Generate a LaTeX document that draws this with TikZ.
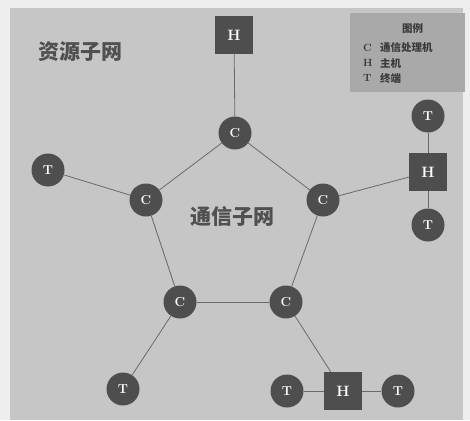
\documentclass[tikz,border=0pt]{standalone}
\usepackage{fontspec}
\newfontfamily\cjk{Noto Sans CJK SC}
\definecolor{bgout}{HTML}{EEEEEE}
\definecolor{bgin}{HTML}{C6C6C6}
\definecolor{legbg}{HTML}{A9A9A9}
\definecolor{nodefill}{HTML}{4E4E4E}
\definecolor{linkcol}{HTML}{6A6A6A}
\definecolor{txtcol}{HTML}{505050}
\definecolor{legcol}{HTML}{3C3C3C}
\begin{document}
\begin{tikzpicture}[x=1pt,y=-1pt,
  cnode/.style={circle,fill=nodefill,minimum size=33pt,inner sep=0pt,text=white,font=\fontsize{13}{13}\selectfont\bfseries},
  hnode/.style={rectangle,fill=nodefill,minimum size=38pt,inner sep=0pt,text=white,font=\fontsize{15}{15}\selectfont\bfseries},
  link/.style={draw=linkcol,line width=0.8pt},
  bigtxt/.style={text=txtcol,font=\cjk\bfseries\fontsize{21}{21}\selectfont},
  legtxt/.style={text=legcol,font=\cjk\bfseries\fontsize{10.5}{10.5}\selectfont,anchor=west,inner sep=0pt},
  legkey/.style={text=legcol,font=\bfseries\fontsize{10.5}{10.5}\selectfont,anchor=west,inner sep=0pt}]
\useasboundingbox (0,0) rectangle (470,420);
\fill[bgout] (0,0) rectangle (470,420);
\fill[bgin] (10,8) rectangle (463,420);
% legend
\fill[legbg] (350,13) rectangle (465,92);
\node[legtxt] (lt) at (402,29) {图例};
\node[legkey] (lc) at (363,48) {C};
\node[legtxt] (lc2) at (380,48) {通信处理机};
\node[legkey] (lh) at (363,63) {H};
\node[legtxt] (lh2) at (380,63) {主机};
\node[legkey] (ltt) at (363,78) {T};
\node[legtxt] (lt2) at (380,78) {终端};
% labels
\node[bigtxt] (res) at (80,52) {资源子网};
\node[bigtxt] (com) at (232,217) {通信子网};
% nodes
\node[hnode] (h1) at (234,35) {H};
\node[cnode] (c1) at (235,133) {C};
\node[cnode] (c2) at (146,200) {C};
\node[cnode] (c3) at (323,200) {C};
\node[cnode] (c4) at (180,302) {C};
\node[cnode] (c5) at (286,302) {C};
\node[cnode] (t1) at (48,170) {T};
\node[hnode] (h2) at (428,172) {H};
\node[cnode] (t2) at (428,116) {T};
\node[cnode] (t3) at (428,225) {T};
\node[cnode] (t4) at (123,389) {T};
\node[hnode] (h3) at (343,391) {H};
\node[cnode] (t5) at (287,391) {T};
\node[cnode] (t6) at (398,391) {T};
% links
\draw[link] (h1) -- (c1);
\draw[link] (c1) -- (c2);
\draw[link] (c1) -- (c3);
\draw[link] (c2) -- (c4);
\draw[link] (c4) -- (c5);
\draw[link] (c5) -- (c3);
\draw[link] (c2) -- (t1);
\draw[link] (c3) -- (h2);
\draw[link] (h2) -- (t2);
\draw[link] (h2) -- (t3);
\draw[link] (c4) -- (t4);
\draw[link] (c5) -- (h3);
\draw[link] (h3) -- (t5);
\draw[link] (h3) -- (t6);
\end{tikzpicture}
\end{document}
